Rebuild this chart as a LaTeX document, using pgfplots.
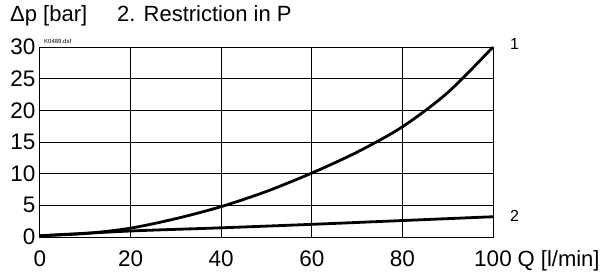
\documentclass[border=0pt]{standalone}
\usepackage{fontspec}
\setmainfont{Liberation Sans}
\usepackage{pgfplots}
\pgfplotsset{compat=1.18}
\begin{document}
\begin{tikzpicture}
\begin{axis}[
 scale only axis, width=453pt, height=190pt,
 xmin=0,xmax=100,ymin=0,ymax=30,
 xtick={0,20,40,60,80,100}, ytick={0,5,10,15,20,25,30},
 grid=major, grid style={black, line width=1pt},
 axis line style={line width=1pt},
 tick style={draw=none},
 ticklabel style={font=\fontsize{22.5}{22.5}\selectfont, inner sep=0pt},
 /pgf/number format/assume math mode=true,
 yticklabel style={anchor=east, xshift=-4.5pt},
 xticklabel style={anchor=base, yshift=-29pt},
 clip=false,
]
\addplot[line width=2.8pt, black, smooth] coordinates {
(0,0.2) (10,0.55) (20,1.4) (30,2.9) (40,4.8) (50,7.2) (60,10.1) (70,13.4) (80,17.4) (90,22.8) (100,30)};
\addplot[line width=2.8pt, black, smooth] coordinates {
(0,0.2) (20,0.95) (40,1.45) (60,2.0) (80,2.6) (100,3.2)};
\path ([xshift=-40pt,yshift=-39pt]rel axis cs:0,0) rectangle ([xshift=114pt,yshift=47pt]rel axis cs:1,1);
\node[anchor=west, font=\fontsize{16}{16}\selectfont, inner sep=0pt] at (axis cs:100,30) [xshift=17pt, yshift=3pt] {1};
\node[anchor=west, font=\fontsize{16}{16}\selectfont, inner sep=0pt] at (axis cs:100,3.3) [xshift=17pt] {2};
\node[anchor=base west, font=\fontsize{22}{22}\selectfont, inner sep=0pt] at (axis cs:100,0) [xshift=24.5pt, yshift=-29pt] {Q [l/min]};
\node[anchor=base west, font=\fontsize{6}{6}\selectfont, inner sep=0pt] at (rel axis cs:0,1) [xshift=4pt, yshift=4pt] {K0489.dsf};
\node[anchor=base west, font=\fontsize{22}{22}\selectfont, inner sep=0pt] at (rel axis cs:0,1) [xshift=-30pt, yshift=26pt] {Δp [bar]};
\node[anchor=base west, font=\fontsize{22}{22}\selectfont, inner sep=0pt] at (rel axis cs:0,1) [xshift=77pt, yshift=26pt] {2. Restriction in P};
\end{axis}
\end{tikzpicture}
\end{document}
